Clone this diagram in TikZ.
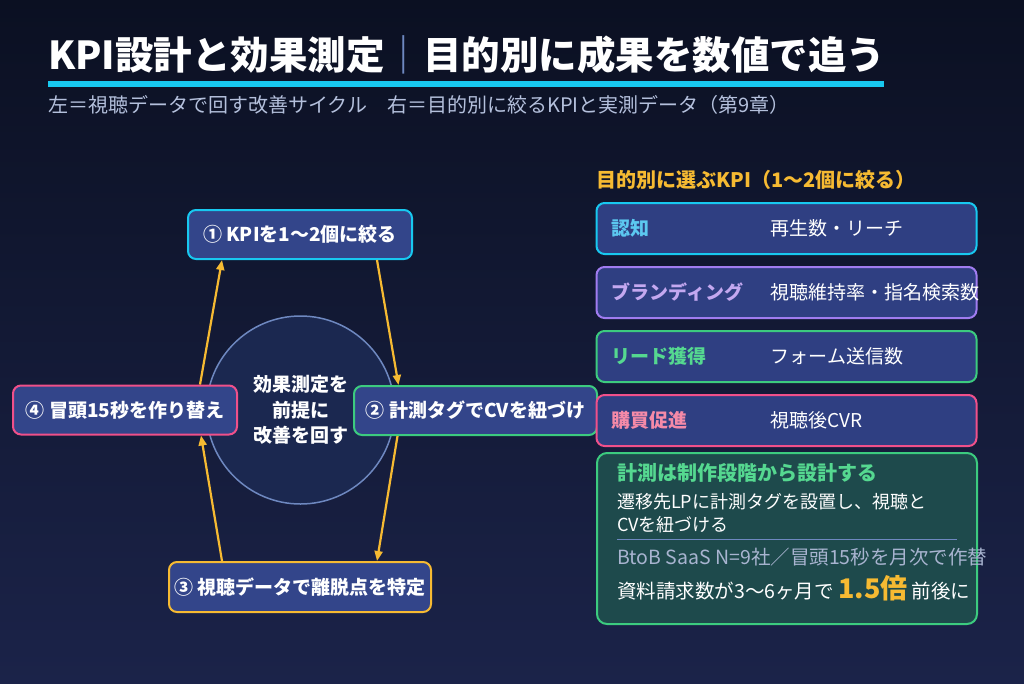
\documentclass[tikz,border=0pt]{standalone}
\usepackage{fontspec}
\setmainfont{Noto Sans CJK JP}
\usetikzlibrary{arrows.meta,positioning}
\definecolor{bgtop}{HTML}{0B1022}
\definecolor{bgbot}{HTML}{1B2349}
\definecolor{boxfill}{HTML}{33458A}
\definecolor{rowfill}{HTML}{2F3F82}
\definecolor{hubfill}{HTML}{1B2850}
\definecolor{hubline}{HTML}{6E88C0}
\definecolor{notefill}{HTML}{1E4A4C}
\definecolor{kcyan}{HTML}{18C8F0}
\definecolor{kgreen}{HTML}{3CCB7F}
\definecolor{kpink}{HTML}{F0508A}
\definecolor{kpurple}{HTML}{A07CF0}
\definecolor{kyellow}{HTML}{F6BA32}
\definecolor{lcyan}{HTML}{5CC8F0}
\definecolor{lpurple}{HTML}{C4A8F0}
\definecolor{lgreen}{HTML}{55D890}
\definecolor{lpink}{HTML}{F58AA8}
\definecolor{subgray}{HTML}{B4C0DC}
\definecolor{notegray}{HTML}{A8B4D0}
\newcommand{\fsz}[1]{\fontsize{#1}{#1}\selectfont}
\tikzset{
  stepbox/.style={rectangle, rounded corners=8pt, fill=boxfill, line width=2pt, text=white,
                  minimum height=49pt, inner sep=0pt, font=\bfseries\fsz{19}},
  hub/.style={circle, fill=hubfill, draw=hubline, line width=1.5pt, minimum size=188pt,
              align=center, text=white, font=\bfseries\fontsize{19}{25.5}\selectfont},
  cyc/.style={-{Triangle[length=10pt,width=8pt]}, draw=kyellow, line width=2.2pt},
  kpirow/.style={rectangle, rounded corners=8pt, fill=rowfill, line width=2pt,
                 minimum width=380pt, minimum height=51pt, inner sep=0pt},
  kpilbl/.style={anchor=west, inner sep=0pt, font=\bfseries\fsz{19}},
  kpival/.style={anchor=west, inner sep=0pt, text=white, font=\fsz{19}},
  notebox/.style={rectangle, rounded corners=10pt, fill=notefill, draw=kgreen, line width=2pt,
                  minimum width=380pt, minimum height=171pt, inner sep=0pt},
  notetxt/.style={anchor=west, inner sep=0pt, text=white, font=\fsz{18}}
}
\begin{document}
\begin{tikzpicture}[x=1pt, y=-1pt]
 \useasboundingbox (0,0) rectangle (1024,683);
 \fill[top color=bgtop, bottom color=bgbot] (0,0) rectangle (1024,683);

 % title
 \node[anchor=west, inner sep=0pt, text=white, font=\bfseries\fsz{38.5}] (title) at (48,55)
   {KPI設計と効果測定{\color{hubline}｜}目的別に成果を数値で追う};
 \fill[kcyan] (48,81) rectangle (884,87);
 \node[anchor=west, inner sep=0pt, text=subgray, font=\fsz{20}] (sub) at (48,105)
   {左＝視聴データで回す改善サイクル　右＝目的別に絞るKPIと実測データ（第9章）};

 % cycle
 \node[hub] (hub) at (300.5,410) {効果測定を\\前提に\\改善を回す};
 \node[stepbox, draw=kcyan, minimum width=224pt] (s1) at (300,234.5) {① KPIを1〜2個に絞る};
 \node[stepbox, draw=kgreen, minimum width=243pt] (s2) at (475.5,410.5) {② 計測タグでCVを紐づけ};
 \node[stepbox, draw=kyellow, minimum width=262pt, minimum height=50pt] (s3) at (300,587) {③ 視聴データで離脱点を特定};
 \node[stepbox, draw=kpink, minimum width=224pt] (s4) at (125,410) {④ 冒頭15秒を作り替え};

 \draw[cyc] ([xshift=77pt]s1.south) -- ([xshift=-77pt]s2.north);
 \draw[cyc] ([xshift=-78pt]s2.south) -- ([xshift=77pt]s3.north);
 \draw[cyc] ([xshift=-78pt]s3.north) -- ([xshift=76pt]s4.south);
 \draw[cyc] ([xshift=75pt]s4.north) -- ([xshift=-78pt]s1.south);

 % kpi by purpose
 \node[anchor=west, inner sep=0pt, text=kyellow, font=\bfseries\fsz{20}] (khead) at (596,180)
   {目的別に選ぶKPI（1〜2個に絞る）};
 \node[kpirow, draw=kcyan] (k1) at (786.5,228.5) {};
 \node[kpirow, draw=kpurple, below=11pt of k1] (k2) {};
 \node[kpirow, draw=kgreen, below=11pt of k2] (k3) {};
 \node[kpirow, draw=kpink, below=11pt of k3] (k4) {};
 \node[kpilbl, text=lcyan] (k1l) at ([xshift=16pt]k1.west) {認知};
 \node[kpival] (k1v) at ([xshift=175pt]k1.west) {再生数・リーチ};
 \node[kpilbl, text=lpurple] (k2l) at ([xshift=16pt]k2.west) {ブランディング};
 \node[kpival] (k2v) at ([xshift=175pt]k2.west) {視聴維持率・指名検索数};
 \node[kpilbl, text=lgreen] (k3l) at ([xshift=16pt]k3.west) {リード獲得};
 \node[kpival] (k3v) at ([xshift=175pt]k3.west) {フォーム送信数};
 \node[kpilbl, text=lpink] (k4l) at ([xshift=16pt]k4.west) {購買促進};
 \node[kpival] (k4v) at ([xshift=175pt]k4.west) {視聴後CVR};

 % measured note
 \node[notebox] (note) at (787,538.5) {};
 \node[anchor=west, inner sep=0pt, text=lgreen, font=\bfseries\fsz{20}] (nt) at (617,473) {計測は制作段階から設計する};
 \node[notetxt] (n1) at (617,502) {遷移先LPに計測タグを設置し、視聴と};
 \node[notetxt] (n2) at (617,525) {CVを紐づける};
 \draw[hubline, line width=1pt] (617,539) -- (957,539);
 \node[notetxt, text=notegray, font=\fsz{19.5}] (n3) at (617,557) {BtoB SaaS N=9社／冒頭15秒を月次で作替};
 \node[notetxt, font=\fsz{19.5}] (n4) at (617,588)
   {資料請求数が3〜6ヶ月で {\color{kyellow}\bfseries\fsz{27}1.5倍} 前後に};
\end{tikzpicture}
\end{document}
